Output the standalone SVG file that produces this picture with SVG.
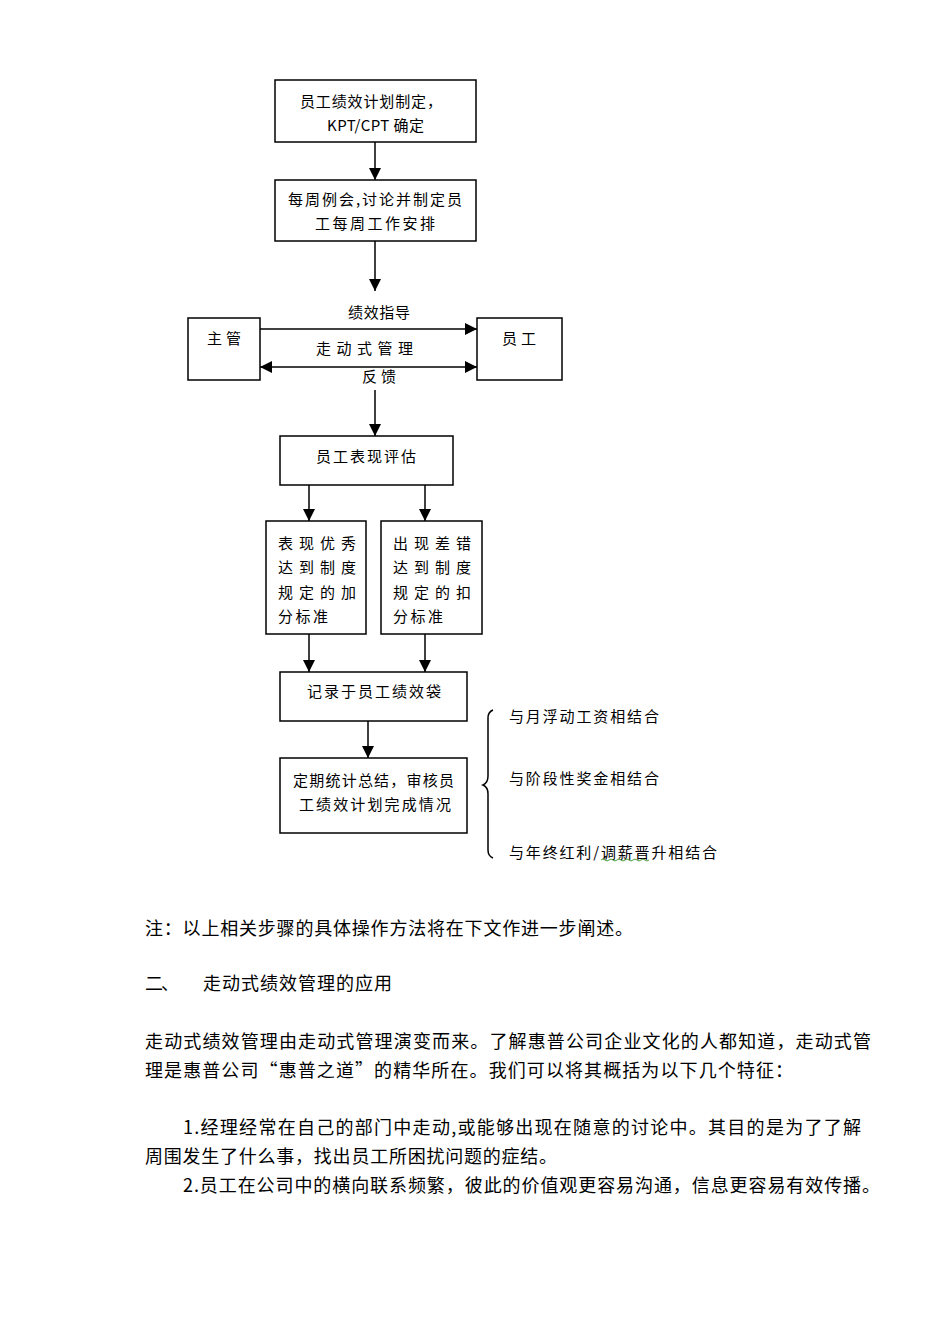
<svg xmlns="http://www.w3.org/2000/svg" width="950" height="1344" viewBox="0 0 950 1344">
<defs>
<marker id="ah" markerWidth="12" markerHeight="12" refX="12" refY="6" orient="auto" markerUnits="userSpaceOnUse"><path d="M0,0 L12,6 L0,12 Z" fill="#000"/></marker>
<marker id="as" markerWidth="12" markerHeight="12" refX="0" refY="6" orient="auto" markerUnits="userSpaceOnUse"><path d="M12,0 L0,6 L12,12 Z" fill="#000"/></marker>
</defs>
<style>
.box{fill:#fff;stroke:#000;stroke-width:1.5}
.ln{stroke:#000;stroke-width:1.5;fill:none}
.t{font-family:"Noto Sans CJK SC","Liberation Sans",sans-serif;font-size:15px;fill:#000;dominant-baseline:central}
.b{font-family:"Noto Sans CJK SC","Liberation Serif",serif;font-size:18px;fill:#000;dominant-baseline:central}
</style>
<rect width="950" height="1344" fill="#fff"/>
<g id="connectors">
<line class="ln" x1="375" y1="142" x2="375" y2="180" marker-end="url(#ah)"/>
<line class="ln" x1="375" y1="241" x2="375" y2="291" marker-end="url(#ah)"/>
<line class="ln" x1="260" y1="329" x2="477" y2="329" marker-end="url(#ah)"/>
<line class="ln" x1="260" y1="367" x2="477" y2="367" marker-start="url(#as)" marker-end="url(#ah)"/>
<line class="ln" x1="375" y1="390" x2="375" y2="436" marker-end="url(#ah)"/>
<line class="ln" x1="309" y1="485" x2="309" y2="521" marker-end="url(#ah)"/>
<line class="ln" x1="425" y1="485" x2="425" y2="521" marker-end="url(#ah)"/>
<line class="ln" x1="309" y1="634" x2="309" y2="672" marker-end="url(#ah)"/>
<line class="ln" x1="425" y1="634" x2="425" y2="672" marker-end="url(#ah)"/>
<line class="ln" x1="368" y1="721" x2="368" y2="758" marker-end="url(#ah)"/>
</g>
<g id="n1"><rect class="box" x="275" y="80" width="201" height="62"/>
<text class="t" x="300" y="100" textLength="142">员工绩效计划制定，</text>
<text class="t" x="327" y="124" textLength="97">KPT/CPT 确定</text></g>
<g id="n2"><rect class="box" x="275" y="180" width="201" height="61"/>
<text class="t" x="288" y="198" textLength="174">每周例会,讨论并制定员</text>
<text class="t" x="315" y="222" textLength="120">工每周工作安排</text></g>
<g id="lbl1"><text class="t" x="348" y="311" textLength="62">绩效指导</text></g>
<g id="n3"><rect class="box" x="188" y="318" width="72" height="62"/>
<text class="t" x="207" y="337" textLength="34">主管</text></g>
<g id="n4"><rect class="box" x="477" y="318" width="85" height="62"/>
<text class="t" x="502" y="337" textLength="34">员工</text></g>
<g id="lbl2"><text class="t" x="316" y="347" textLength="97">走 动 式 管 理</text></g>
<g id="lbl3"><text class="t" x="362" y="375" textLength="34">反馈</text></g>
<g id="n5"><rect class="box" x="280" y="436" width="173" height="49"/>
<text class="t" x="316" y="455" textLength="100">员工表现评估</text></g>
<g id="n6"><rect class="box" x="266" y="521" width="100" height="113"/>
<text class="t" x="278" y="542" textLength="78">表现优秀</text>
<text class="t" x="278" y="566" textLength="78">达到制度</text>
<text class="t" x="278" y="591" textLength="78">规定的加</text>
<text class="t" x="278" y="615" textLength="50">分标准</text></g>
<g id="n7"><rect class="box" x="381" y="521" width="101" height="113"/>
<text class="t" x="393" y="542" textLength="78">出现差错</text>
<text class="t" x="393" y="566" textLength="78">达到制度</text>
<text class="t" x="393" y="591" textLength="78">规定的扣</text>
<text class="t" x="393" y="615" textLength="50">分标准</text></g>
<g id="n8"><rect class="box" x="280" y="672" width="187" height="49"/>
<text class="t" x="307" y="690" textLength="134">记录于员工绩效袋</text></g>
<g id="n9"><rect class="box" x="280" y="758" width="187" height="75"/>
<text class="t" x="293" y="779" textLength="161">定期统计总结，审核员</text>
<text class="t" x="299" y="803" textLength="152">工绩效计划完成情况</text></g>
<g id="brace"><path class="ln" stroke-width="1.3" d="M493,710 Q488,712 488,718 L488,776 Q488,783 483,785 Q488,787 488,794 L488,850 Q488,856 493,858"/></g>
<g id="notes">
<text class="t" x="509" y="715" textLength="150">与月浮动工资相结合</text>
<text class="t" x="509" y="777" textLength="150">与阶段性奖金相结合</text>
<text class="t" x="509" y="851" textLength="208">与年终红利/调薪晋升相结合</text>
<path d="M601,860 q2,-2 4,0 t4,0 t4,0 t4,0 t4,0 t4,0 t4,0 t4,0 t4,0 t4,0 t4,0 t4,0" fill="none" stroke="#4a9a3a" stroke-width="1"/>
</g>
<g id="body">
<text class="b" x="145" y="927" textLength="488">注：以上相关步骤的具体操作方法将在下文作进一步阐述。</text>
<text class="b" x="145" y="982" textLength="34">二、</text>
<text class="b" x="203" y="982" textLength="189">走动式绩效管理的应用</text>
<text class="b" x="145" y="1040" textLength="726">走动式绩效管理由走动式管理演变而来。了解惠普公司企业文化的人都知道，走动式管</text>
<text class="b" x="145" y="1069" textLength="648">理是惠普公司“惠普之道”的精华所在。我们可以将其概括为以下几个特征：</text>
<text class="b" x="183" y="1126" textLength="678">1.经理经常在自己的部门中走动,或能够出现在随意的讨论中。其目的是为了了解</text>
<text class="b" x="145" y="1155" textLength="412">周围发生了什么事，找出员工所困扰问题的症结。</text>
<text class="b" x="183" y="1184" textLength="697">2.员工在公司中的横向联系频繁，彼此的价值观更容易沟通，信息更容易有效传播。</text>
</g>
</svg>
